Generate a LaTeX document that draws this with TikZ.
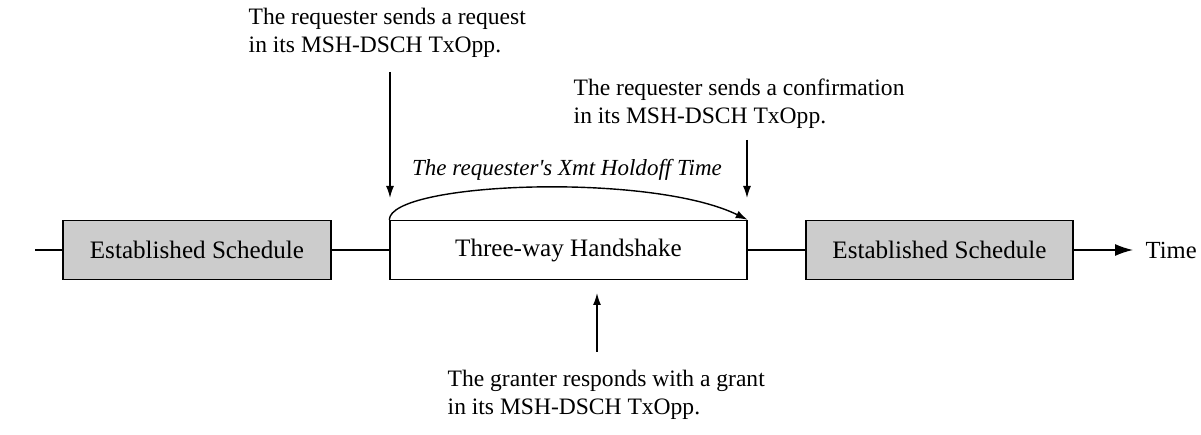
\documentclass[tikz,border=0pt]{standalone}
\usepackage{fontspec}
\setmainfont{Liberation Serif}
\usetikzlibrary{arrows.meta,calc,positioning}

\begin{document}
\begin{tikzpicture}[x=0.02cm,y=-0.02cm,
    line width=0.8pt,
    every node/.style={font=\fontsize{13.4}{16}\selectfont},
    slot/.style={draw,minimum height=1.18cm,inner sep=0pt,font=\fontsize{14.3}{17}\selectfont},
    note/.style={align=left,anchor=west,inner sep=0pt},
    tip/.style={-{Latex[length=2.4mm,width=1.6mm]}}]
    \useasboundingbox (0,0) rectangle (1201,435);
    % time line
    \node[slot,fill=black!20,minimum width=5.36cm] (es1) at (197,250) {Established Schedule};
    \node[slot,fill=white,minimum width=7.14cm] (hs) at (568.5,250) {Three-way Handshake};
    \node[slot,fill=black!20,minimum width=5.34cm] (es2) at (939.5,250) {Established Schedule};
    \node[anchor=west,inner sep=0pt,font=\fontsize{14}{17}\selectfont] (time) at (1145,250) {Time};
    \coordinate (t0) at (35,250);
    \coordinate (t1) at (1133,250);
    \draw (t0) -- (es1);
    \draw (es1) -- (hs);
    \draw (hs) -- (es2);
    \draw[-{Latex[length=3.6mm,width=2.4mm]}] (es2) -- (t1);
    % notes
    \node[note] (req) at (248,33) {The requester sends a request\\in its MSH-DSCH TxOpp.};
    \node[note] (conf) at (573,104) {The requester sends a confirmation\\in its MSH-DSCH TxOpp.};
    \node[note] (grant) at (447,395) {The granter responds with a grant\\in its MSH-DSCH TxOpp.};
    \coordinate (r0) at (390,72);
    \coordinate (r1) at (390,198);
    \coordinate (c0) at (747,140);
    \coordinate (c1) at (747,198);
    \coordinate (g0) at (597,352);
    \coordinate (g1) at (597,293);
    \draw[tip] (r0) -- (r1);
    \draw[tip] (c0) -- (c1);
    \draw[tip] (g0) -- (g1);
    % holdoff
    \draw[tip] (hs.north west) .. controls (390,182) and (650,172) .. (hs.north east);
    \node[font=\fontsize{13.1}{15}\selectfont\itshape] (hold) at (567,170) {The requester\textquotesingle s Xmt Holdoff Time};
\end{tikzpicture}
\end{document}
